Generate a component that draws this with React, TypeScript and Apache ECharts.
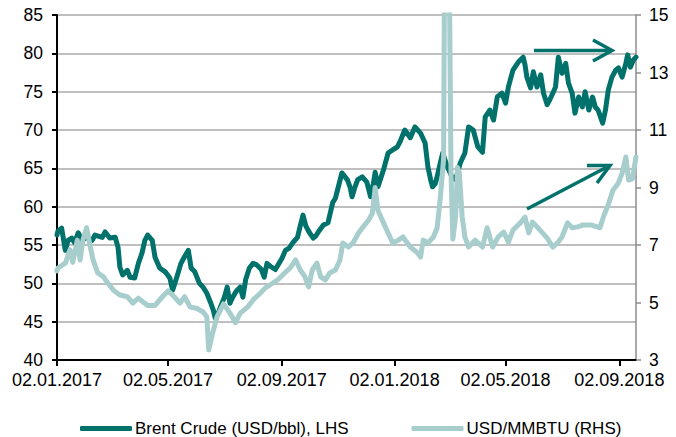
import React, { useEffect, useRef } from "react";
import * as echarts from "echarts";

// ---------- DATA ----------
const brentDates = [
  "2017-01-02","2017-01-03","2017-01-07","2017-01-11","2017-01-14","2017-01-18","2017-01-21","2017-01-25","2017-01-29",
  "2017-02-03","2017-02-09","2017-02-12","2017-02-20","2017-02-23","2017-02-28",
  "2017-03-06","2017-03-09","2017-03-11","2017-03-14","2017-03-19","2017-03-22","2017-03-27","2017-03-31",
  "2017-04-04","2017-04-07","2017-04-10","2017-04-15","2017-04-18","2017-04-23","2017-04-29",
  "2017-05-04","2017-05-07","2017-05-12","2017-05-16","2017-05-20","2017-05-24","2017-05-27","2017-05-31",
  "2017-06-05","2017-06-09","2017-06-13","2017-06-17","2017-06-20","2017-06-22","2017-06-25","2017-06-28",
  "2017-07-02","2017-07-05","2017-07-08","2017-07-11","2017-07-15","2017-07-19","2017-07-22","2017-07-25","2017-07-29",
  "2017-08-02","2017-08-06","2017-08-11","2017-08-14","2017-08-17","2017-08-21","2017-08-26","2017-08-30",
  "2017-09-02","2017-09-06","2017-09-10","2017-09-14","2017-09-19","2017-09-22","2017-09-25","2017-09-28",
  "2017-10-02","2017-10-06","2017-10-09","2017-10-12","2017-10-17","2017-10-22","2017-10-27","2017-10-30",
  "2017-11-02","2017-11-06","2017-11-12","2017-11-15","2017-11-17","2017-11-20","2017-11-23","2017-11-28",
  "2017-12-03","2017-12-07","2017-12-10","2017-12-12","2017-12-15","2017-12-21","2017-12-26","2017-12-31",
  "2018-01-05","2018-01-08","2018-01-13","2018-01-19","2018-01-24","2018-01-30",
  "2018-02-04","2018-02-07","2018-02-10","2018-02-12","2018-02-15","2018-02-17","2018-02-20","2018-02-23","2018-02-28",
  "2018-03-05","2018-03-09","2018-03-14","2018-03-19","2018-03-23","2018-03-28",
  "2018-04-02","2018-04-07","2018-04-10","2018-04-15","2018-04-19","2018-04-23","2018-04-28",
  "2018-05-02","2018-05-05","2018-05-07","2018-05-10","2018-05-16","2018-05-21","2018-05-23","2018-05-25","2018-05-29",
  "2018-06-01","2018-06-05","2018-06-09","2018-06-12","2018-06-16","2018-06-19","2018-06-22","2018-06-25","2018-06-28",
  "2018-07-02","2018-07-06","2018-07-09","2018-07-13","2018-07-16","2018-07-20","2018-07-24","2018-07-27","2018-07-31",
  "2018-08-04","2018-08-07","2018-08-10","2018-08-15","2018-08-18","2018-08-21","2018-08-25","2018-08-29",
  "2018-09-01","2018-09-05","2018-09-09","2018-09-11","2018-09-14","2018-09-17","2018-09-20",
];
const brentValues = [
  56.3,56.8,57.2,54.3,55.6,55.9,55.3,56.6,55.6,
  56.0,55.6,56.3,56.0,56.7,55.9,
  56.0,54.7,52.1,51.1,51.7,50.8,50.7,52.6,
  54.0,55.6,56.3,55.6,53.4,52.0,51.5,
  50.7,49.1,51.0,52.6,53.5,54.3,52.0,51.5,
  50.0,49.5,48.7,47.5,46.5,45.5,46.0,47.0,
  48.2,49.5,47.4,48.2,49.0,49.5,48.2,50.5,52.0,
  52.6,52.4,51.8,50.8,52.6,52.2,51.8,52.6,
  53.2,54.3,54.6,55.3,56.0,57.5,58.9,57.5,
  56.6,55.9,56.2,56.8,57.6,57.9,60.5,61.1,
  62.5,64.4,63.5,62.5,61.3,62.5,63.5,63.9,
  63.2,61.3,63.0,64.5,62.6,64.8,67.0,67.4,
  67.8,68.5,70.0,69.0,70.4,69.6,
  68.3,65.2,63.5,62.6,63.0,63.9,65.5,67.0,65.2,
  63.9,63.5,65.7,67.0,70.4,70.0,
  67.8,67.1,71.7,72.6,71.3,74.3,74.8,
  73.5,75.6,76.5,77.8,78.9,79.5,78.5,76.9,75.5,
  77.6,75.6,77.2,74.8,73.3,74.0,74.8,75.6,79.5,
  77.4,78.7,76.1,74.8,72.2,74.3,73.0,75.0,72.6,
  74.3,73.0,72.6,70.9,72.6,75.2,76.9,77.8,
  78.1,76.9,78.7,79.8,78.2,79.1,79.5,
];

const gasDates = [
  "2017-01-02","2017-01-03","2017-01-11","2017-01-16","2017-01-19","2017-01-24","2017-01-27","2017-01-30",
  "2017-02-03","2017-02-07","2017-02-10","2017-02-15","2017-02-21","2017-02-26",
  "2017-03-04","2017-03-11","2017-03-19","2017-03-25","2017-03-31",
  "2017-04-05","2017-04-10","2017-04-18","2017-04-26",
  "2017-05-02","2017-05-07","2017-05-15","2017-05-20","2017-05-26",
  "2017-06-02","2017-06-09","2017-06-13","2017-06-15","2017-06-19","2017-06-24",
  "2017-07-01","2017-07-08","2017-07-14","2017-07-19","2017-07-27",
  "2017-08-02","2017-08-10","2017-08-15","2017-08-23","2017-08-29",
  "2017-09-06","2017-09-11","2017-09-17","2017-09-22","2017-09-27",
  "2017-10-01","2017-10-05","2017-10-10","2017-10-14","2017-10-19","2017-10-24","2017-10-30",
  "2017-11-04","2017-11-07","2017-11-13","2017-11-18","2017-11-24","2017-11-29",
  "2017-12-05","2017-12-09","2017-12-12","2017-12-15","2017-12-21","2017-12-26","2017-12-31",
  "2018-01-06","2018-01-11","2018-01-19","2018-01-27","2018-01-30",
  "2018-02-02","2018-02-07","2018-02-13","2018-02-17","2018-02-20","2018-02-24","2018-02-25",
  "2018-03-02","2018-03-04","2018-03-06","2018-03-09","2018-03-11","2018-03-13","2018-03-16","2018-03-19","2018-03-23","2018-03-30",
  "2018-04-07","2018-04-12","2018-04-18","2018-04-24","2018-04-30",
  "2018-05-05","2018-05-10","2018-05-18","2018-05-23","2018-05-27","2018-05-31",
  "2018-06-05","2018-06-11","2018-06-16","2018-06-22","2018-06-27",
  "2018-07-02","2018-07-08","2018-07-13","2018-07-19","2018-07-25",
  "2018-08-02","2018-08-09","2018-08-12","2018-08-16","2018-08-21","2018-08-26",
  "2018-09-01","2018-09-05","2018-09-09","2018-09-12","2018-09-16","2018-09-20",
];
const gasValues = [
  6.1,6.2,6.37,6.83,6.4,7.17,6.48,7.17,
  7.6,6.93,6.48,6.03,5.9,5.67,
  5.43,5.26,5.2,4.98,5.15,
  5.02,4.9,4.9,5.2,
  5.4,5.26,4.98,5.2,4.84,
  4.8,4.67,4.5,3.35,3.9,4.5,
  4.95,4.63,4.3,4.63,4.84,
  5.09,5.33,5.5,5.67,5.8,
  6.05,6.2,6.48,6.13,5.9,
  5.54,6.13,6.37,5.9,5.78,6.03,6.13,
  6.48,7.07,6.93,7.07,7.42,7.63,
  7.87,8.11,9.0,8.2,7.77,7.42,7.07,
  7.17,7.28,6.93,6.72,6.58,
  7.17,7.07,7.28,7.6,8.5,10.0,17.0,
  17.0,9.5,7.2,8.0,9.7,9.5,8.0,7.28,6.93,7.17,
  6.93,7.6,6.93,7.28,7.45,
  7.1,7.52,7.77,7.97,7.42,7.8,
  7.63,7.42,7.24,6.93,7.07,
  7.28,7.77,7.6,7.63,7.7,
  7.7,7.63,7.6,8.0,8.4,8.9,
  9.16,9.5,10.06,9.26,9.3,10.06,
];

const xTickDates = ["2017-01-02","2017-05-02","2017-09-02","2018-01-02","2018-05-02","2018-09-02"];
const xRange = ["2017-01-02", "2018-09-20"];
const leftTicks = [40, 45, 50, 55, 60, 65, 70, 75, 80, 85];
const rightTicks = [3, 5, 7, 9, 11, 13, 15];
const seriesNames = ["Brent Crude (USD/bbl), LHS", "USD/MMBTU (RHS)"];

// ---------- HELPERS ----------
const toTime = (s: string) => {
  const [y, m, d] = s.split("-").map(Number);
  return new Date(y, m - 1, d).getTime();
};
const pad = (n: number) => (n < 10 ? "0" + n : "" + n);
const fmtDate = (v: number) => {
  const d = new Date(v);
  return pad(d.getDate()) + "." + pad(d.getMonth() + 1) + "." + d.getFullYear();
};

const DARK = "#00726B";
const LIGHT = "#A7CDCD";
const FONT = "'Liberation Sans', Arial, sans-serif";

export default function App() {
  const ref = useRef<HTMLDivElement>(null);

  useEffect(() => {
    if (!ref.current) return;
    const chart = echarts.init(ref.current, null, { renderer: "svg" });
    const brent = brentDates.map((d, i) => [toTime(d), brentValues[i]]);
    const gas = gasDates.map((d, i) => [toTime(d), gasValues[i]]);
    const xTicks = xTickDates.map(toTime);

    chart.setOption({
      animation: false,
      backgroundColor: "#ffffff",
      textStyle: { fontFamily: FONT },
      grid: { left: 57, right: 40, top: 15, bottom: 77, containLabel: false },
      xAxis: {
        type: "value",
        min: toTime(xRange[0]),
        max: toTime(xRange[1]),
        axisLine: { show: true, onZero: false, lineStyle: { color: "#000", width: 2 } },
        axisTick: { show: true, length: 6, customValues: xTicks, lineStyle: { color: "#000", width: 2 } },
        axisLabel: {
          customValues: xTicks,
          formatter: (v: number) => fmtDate(v),
          color: "#000",
          fontSize: 18,
          fontFamily: FONT,
          margin: 11,
          hideOverlap: false,
          showMinLabel: true,
          showMaxLabel: true,
        },
        splitLine: { show: false },
      },
      yAxis: [
        {
          type: "value",
          min: leftTicks[0],
          max: leftTicks[leftTicks.length - 1],
          interval: 5,
          position: "left",
          axisLine: { show: true, onZero: false, lineStyle: { color: "#000", width: 2 } },
          axisTick: { show: true, length: 5, lineStyle: { color: "#000", width: 2 } },
          axisLabel: { color: "#000", fontSize: 17.5, fontFamily: FONT, margin: 14 },
          splitLine: { show: true, lineStyle: { color: "#BFBFBF", width: 2 } },
        },
        {
          type: "value",
          min: rightTicks[0],
          max: rightTicks[rightTicks.length - 1],
          position: "right",
          axisLine: { show: true, onZero: false, lineStyle: { color: "#8C8C8C", width: 1.5 } },
          axisTick: { show: true, length: 5, customValues: rightTicks, lineStyle: { color: "#8C8C8C", width: 1.5 } },
          axisLabel: { customValues: rightTicks, color: "#000", fontSize: 17.5, fontFamily: FONT, margin: 13 },
          splitLine: { show: false },
        },
      ],
      legend: {
        show: true,
        left: 75,
        top: 415,
        icon: "roundRect",
        itemWidth: 52,
        itemHeight: 5,
        itemGap: 63,
        textStyle: { color: "#000", fontSize: 17, fontFamily: FONT, padding: [0, 0, 0, -2] },
        data: seriesNames,
      },
      series: [
        {
          name: seriesNames[0],
          type: "line",
          yAxisIndex: 0,
          data: brent,
          showSymbol: false,
          symbol: "none",
          clip: true,
          color: DARK,
          lineStyle: { color: DARK, width: 5, join: "round", cap: "round" },
        },
        {
          name: seriesNames[1],
          type: "line",
          yAxisIndex: 1,
          data: gas,
          showSymbol: false,
          symbol: "none",
          clip: true,
          color: LIGHT,
          lineStyle: { color: LIGHT, width: 5, join: "round", cap: "round" },
        },
      ],
      graphic: [
        {
          type: "polyline",
          shape: { points: [[534, 50.5], [611, 50.5]] },
          style: { stroke: DARK, lineWidth: 3.5, fill: null },
          z: 100,
        },
        {
          type: "polyline",
          shape: { points: [[593, 40], [612, 50.5], [593, 61]] },
          style: { stroke: DARK, lineWidth: 3.5, fill: null },
          z: 100,
        },
        {
          type: "polyline",
          shape: { points: [[527, 209], [609, 166]] },
          style: { stroke: DARK, lineWidth: 3.5, fill: null },
          z: 100,
        },
        {
          type: "polyline",
          shape: { points: [[587, 165.5], [610, 165.5], [597, 183]] },
          style: { stroke: DARK, lineWidth: 3.5, fill: null },
          z: 100,
        },
      ],
    });
    return () => chart.dispose();
  }, []);

  return (
    <div
      ref={ref}
      style={{ position: "fixed", left: 0, top: 0, width: 676, height: 437, background: "#fff" }}
    />
  );
}
